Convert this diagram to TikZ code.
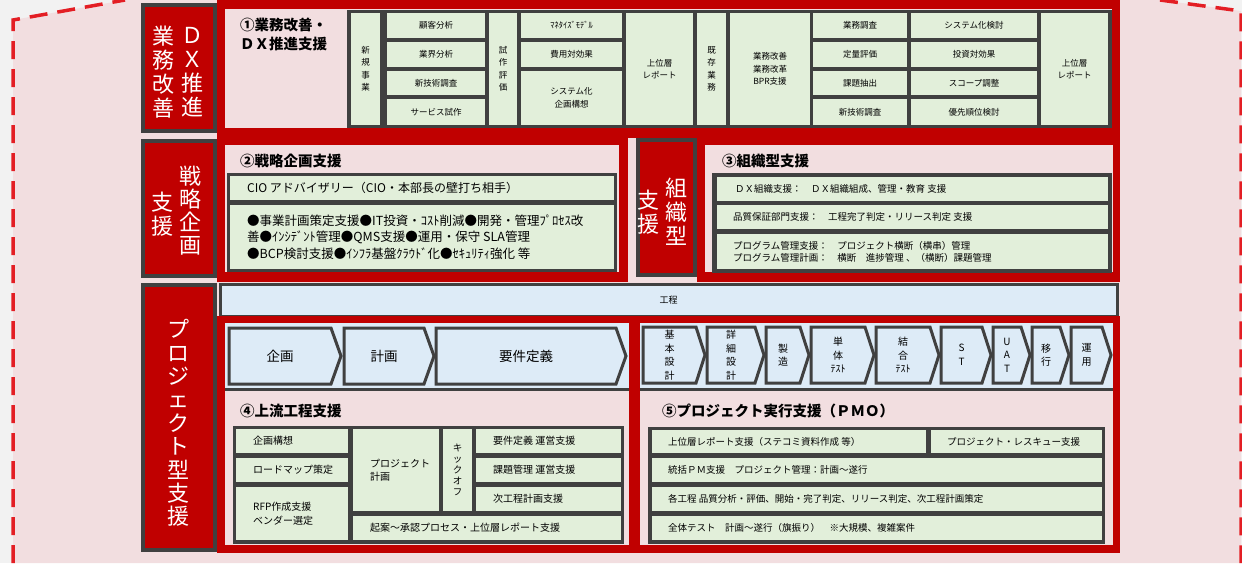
\documentclass[tikz,border=0pt]{standalone}
\usepackage{fontspec}
\setmainfont{Noto Sans CJK JP}
\usetikzlibrary{positioning,calc}

\definecolor{framered}{HTML}{C00000}
\definecolor{darkline}{HTML}{404040}
\definecolor{cellgreen}{HTML}{E2EFDA}
\definecolor{stepblue}{HTML}{DDEBF7}
\definecolor{panelpink}{HTML}{F2DEE0}
\definecolor{bggray}{HTML}{F2F2F2}
\definecolor{dashred}{HTML}{E31E24}

\tikzset{
	font=\fontsize{9}{12}\selectfont,
	frame/.style={fill=framered},
	panel/.style={fill=panelpink},
	grid/.style={fill=darkline},
	cell/.style={fill=cellgreen, inner sep=0pt, outer sep=0pt, align=center},
	sidebox/.style={fill=framered, draw=darkline, line width=4pt, inner sep=0pt},
	sidetxt/.style={text=white, align=center, inner sep=0pt, font=\fontsize{22}{24}\selectfont},
	title/.style={anchor=west, inner sep=0pt, align=left, font=\fontsize{14.5}{19}\selectfont\bfseries},
	lbl/.style={anchor=west, inner sep=0pt, align=left},
	chev/.style={fill=stepblue, draw=darkline, line width=3pt, line join=miter},
	chevtxt/.style={inner sep=0pt, align=center},
	dashline/.style={draw=dashred, line width=3.5pt, dash pattern=on 18pt off 10pt},
}

% cell: [options]{name}{x1}{y1}{x2}{y2}{text}
\newcommand{\cellbox}[7][]{\node[cell, minimum width={#5-#3}, minimum height={#6-#4}, #1] (#2) at ({(#3+#5)/2},{(#4+#6)/2}) {#7};}
% process arrow: {name}{x1}{x2}{y1}{y2}{depth}{text}
\newcommand{\stepbox}[7]{%
	\draw[chev] (#2,#4) -- ({#3-#6},#4) -- (#3,{(#4+#5)/2}) -- ({#3-#6},#5) -- (#2,#5) -- cycle;
	\node[chevtxt] (#1) at ({(#2+#3-#6)/2},{(#4+#5)/2}) {#7};}

\begin{document}
\begin{tikzpicture}[x=1pt,y=-1pt]
	\useasboundingbox (0,0) rectangle (1242,563);

	% background
	\fill[bggray] (0,0) rectangle (1242,563);
	\fill[panelpink] (13,563) -- (13,20) -- (125,0) -- (1160,0) -- (1241,11) -- (1241,563) -- cycle;
	\draw[dashline] (13,563) -- (13,20) -- (125,0);
	\draw[dashline] (1160,0) -- (1241,11) -- (1241,563);

	% red frames and panels
	\fill[frame] (217,0) rectangle (1120,138);
	\fill[frame] (217,138) rectangle (628,282);
	\fill[frame] (697,138) rectangle (1120,282);
	\fill[panel] (225,9) rectangle (1112,128);
	\fill[panel] (225,145) rectangle (619,272);
	\fill[panel] (705,145) rectangle (1113,272);

	% process bar
	\node[draw=darkline, fill=stepblue, line width=3pt, inner sep=0pt, minimum width=897, minimum height=32] (kotei) at (668.5,300.5) {工程};

	\fill[frame] (217,316) rectangle (1120,553);
	\fill[panel] (225,323) rectangle (629,545);
	\fill[panel] (640,323) rectangle (1113,545);

	% side labels
	\node[sidebox, minimum width=72, minimum height=126] (dxbox) at (179,68) {};
	\node[sidetxt] (dxl) at (163,72) {業\\務\\改\\善};
	\node[sidetxt] (dxr) at (192,72) {Ｄ\\Ｘ\\推\\進};
	\node[sidebox, minimum width=72, minimum height=135] (stbox) at (179,208.5) {};
	\node[sidetxt, font=\fontsize{22}{23}\selectfont] (str) at (190,211) {戦\\略\\企\\画};
	\node[sidetxt] (stl) at (162,214) {支\\援};
	\node[sidebox, minimum width=57, minimum height=135] (sobox) at (666.5,207.5) {};
	\node[sidetxt] (sor) at (676,212) {組\\織\\型};
	\node[sidetxt] (sol) at (648,212) {支\\援};
	\node[sidebox, minimum width=72, minimum height=265] (pjbox) at (179,417.5) {};
	\node[sidetxt, font=\fontsize{22}{23.4}\selectfont] (pjt) at (178,423) {プ\\ロ\\ジ\\ェ\\ク\\ト\\型\\支\\援};

	% titles
	\node[title] (t1) at (240,34) {①業務改善・\\ＤＸ推進支援};
	\node[title] (t2) at (240,161) {②戦略企画支援};
	\node[title] (t3) at (722,161) {③組織型支援};
	\node[title] (t4) at (240,411) {④上流工程支援};
	\node[title] (t5) at (662,411) {⑤プロジェクト実行支援（ＰＭＯ）};

	% (1) grid
	\fill[grid] (347,10) rectangle (1112,128);
	\begin{scope}[every node/.append style={font=\fontsize{8.5}{12.5}\selectfont}]
		\cellbox{a1}{351}{13}{380}{125}{新\\規\\事\\業}
		\cellbox{a2}{387}{13}{485}{38}{顧客分析}
		\cellbox{a3}{387}{42}{485}{67}{業界分析}
		\cellbox{a4}{387}{71}{485}{95}{新技術調査}
		\cellbox{a5}{387}{99}{485}{125}{サービス試作}
		\cellbox{a6}{489}{13}{517}{125}{試\\作\\評\\価}
		\cellbox{a7}{521}{13}{622}{38}{ﾏﾈﾀｲｽﾞﾓﾃﾞﾙ}
		\cellbox{a8}{521}{42}{622}{67}{費用対効果}
		\cellbox{a9}{521}{71}{622}{125}{システム化\\企画構想}
		\cellbox{a10}{626}{13}{693}{125}{上位層\\レポート}
		\cellbox{b1}{697}{13}{726}{125}{既\\存\\業\\務}
		\cellbox{b2}{730}{13}{810}{125}{業務改善\\業務改革\\BPR支援}
		\cellbox{b3}{813}{13}{907}{38}{業務調査}
		\cellbox{b4}{813}{42}{907}{67}{定量評価}
		\cellbox{b5}{813}{71}{907}{95}{課題抽出}
		\cellbox{b6}{813}{99}{907}{125}{新技術調査}
		\cellbox{b7}{911}{13}{1037}{38}{システム化検討}
		\cellbox{b8}{911}{42}{1037}{67}{投資対効果}
		\cellbox{b9}{911}{71}{1037}{95}{スコープ調整}
		\cellbox{b10}{911}{99}{1037}{125}{優先順位検討}
		\cellbox{b11}{1041}{13}{1108}{125}{上位層\\レポート}
	\end{scope}

	% (2) grid
	\fill[grid] (227,173) rectangle (617,272);
	\cellbox{cio}{230}{176}{614}{200}{}
	\cellbox{bul}{230}{205}{614}{269}{}
	\node[lbl, font=\fontsize{12}{16}\selectfont] (ciot) at (247,188) {CIO アドバイザリー（CIO・本部長の壁打ち相手）};
	\node[lbl, font=\fontsize{12.5}{16.5}\selectfont] (bult) at (247,237) {●事業計画策定支援●IT投資・ｺｽﾄ削減●開発・管理ﾌﾟﾛｾｽ改\\善●ｲﾝｼﾃﾞﾝﾄ管理●QMS支援●運用・保守 SLA管理\\●BCP検討支援●ｲﾝﾌﾗ基盤ｸﾗｳﾄﾞ化●ｾｷｭﾘﾃｨ強化 等};

	% (3) grid
	\fill[grid] (712,173) rectangle (1112,273);
	\cellbox{c1}{717}{177}{1108}{201}{}
	\cellbox{c2}{717}{205}{1108}{229}{}
	\cellbox{c3}{717}{234}{1108}{269}{}
	\begin{scope}[every node/.append style={font=\fontsize{9.5}{12}\selectfont}]
		\node[lbl] (c1t) at (735,189) {ＤＸ組織支援：　ＤＸ組織組成、管理・教育 支援};
		\node[lbl] (c2t) at (733,217) {品質保証部門支援：　工程完了判定・リリース判定 支援};
		\node[lbl] (c3t) at (733,251.5) {プログラム管理支援：　プロジェクト横断（横串）管理\\プログラム管理計画：　横断　進捗管理 、（横断）課題管理};
	\end{scope}

	% process arrows
	\fill[stepblue] (225,323) rectangle (629,390);
	\draw[darkline, line width=3pt] (225,389) -- (629,389);
	\fill[stepblue] (640,323) rectangle (1113,390);
	\draw[darkline, line width=3pt] (640,389) -- (1113,389);
	\begin{scope}[every node/.append style={font=\fontsize{13.5}{16}\selectfont}]
		\stepbox{p1}{229}{341}{328}{384}{10}{企画}
		\stepbox{p2}{344}{434}{328}{384}{10}{計画}
		\stepbox{p3}{436}{626}{328}{384}{10}{要件定義}
	\end{scope}
	\begin{scope}[every node/.append style={font=\fontsize{10}{13.5}\selectfont}]
		\stepbox{q1}{643}{705}{327}{383}{9}{基\\本\\設\\計}
		\stepbox{q2}{707}{764}{327}{383}{9}{詳\\細\\設\\計}
		\stepbox{q3}{766}{809}{327}{383}{9}{製\\造}
		\stepbox{q4}{811}{874}{327}{383}{9}{単\\体\\ﾃｽﾄ}
		\stepbox{q5}{876}{939}{327}{383}{9}{結\\合\\ﾃｽﾄ}
		\stepbox{q6}{941}{991}{327}{383}{9}{S\\T}
		\stepbox{q7}{993}{1030}{327}{383}{9}{U\\A\\T}
		\stepbox{q8}{1032}{1069}{327}{383}{9}{移\\行}
		\stepbox{q9}{1071}{1111}{327}{383}{9}{運\\用}
	\end{scope}

	% (4) grid
	\fill[grid] (233,426) rectangle (624,544);
	\begin{scope}[every node/.append style={font=\fontsize{10}{13.5}\selectfont}]
		\cellbox{d1}{236}{429}{348}{453}{}
		\cellbox{d2}{236}{458}{348}{482}{}
		\cellbox{d3}{236}{487}{348}{540}{}
		\cellbox{d4}{353}{429}{439}{511}{}
		\cellbox[font=\fontsize{9.5}{11}\selectfont]{d5}{443}{429}{472}{511}{キ\\ッ\\ク\\オ\\フ}
		\cellbox{d6}{476}{429}{621}{453}{}
		\cellbox{d7}{476}{458}{621}{482}{}
		\cellbox{d8}{476}{487}{621}{511}{}
		\cellbox{d9}{353}{516}{621}{540}{}
		\node[lbl] (d1t) at (253,441) {企画構想};
		\node[lbl] (d2t) at (253,470) {ロードマップ策定};
		\node[lbl] (d3t) at (253,513.5) {RFP作成支援\\ベンダー選定};
		\node[lbl] (d4t) at (370,470) {プロジェクト\\計画};
		\node[lbl] (d6t) at (493,441) {要件定義 運営支援};
		\node[lbl] (d7t) at (493,470) {課題管理 運営支援};
		\node[lbl] (d8t) at (493,499) {次工程計画支援};
		\node[lbl] (d9t) at (370,528) {起案～承認プロセス・上位層レポート支援};
	\end{scope}

	% (5) grid
	\fill[grid] (648,427) rectangle (1105,544);
	\begin{scope}[every node/.append style={font=\fontsize{9.5}{12}\selectfont}]
		\cellbox{e1}{652}{430}{926}{453}{}
		\cellbox{e2}{931}{430}{1102}{453}{}
		\cellbox{e3}{652}{458}{1102}{482}{}
		\cellbox{e4}{652}{487}{1102}{511}{}
		\cellbox{e5}{652}{516}{1102}{540}{}
		\node[lbl] (e1t) at (668,441.5) {上位層レポート支援（ステコミ資料作成 等）};
		\node[lbl] (e2t) at (947,441.5) {プロジェクト・レスキュー支援};
		\node[lbl] (e3t) at (668,470) {統括ＰＭ支援　プロジェクト管理：計画～遂行};
		\node[lbl] (e4t) at (668,499) {各工程 品質分析・評価、開始・完了判定、リリース判定、次工程計画策定};
		\node[lbl] (e5t) at (668,528) {全体テスト　計画～遂行（旗振り）　※大規模、複雑案件};
	\end{scope}
\end{tikzpicture}
\end{document}
